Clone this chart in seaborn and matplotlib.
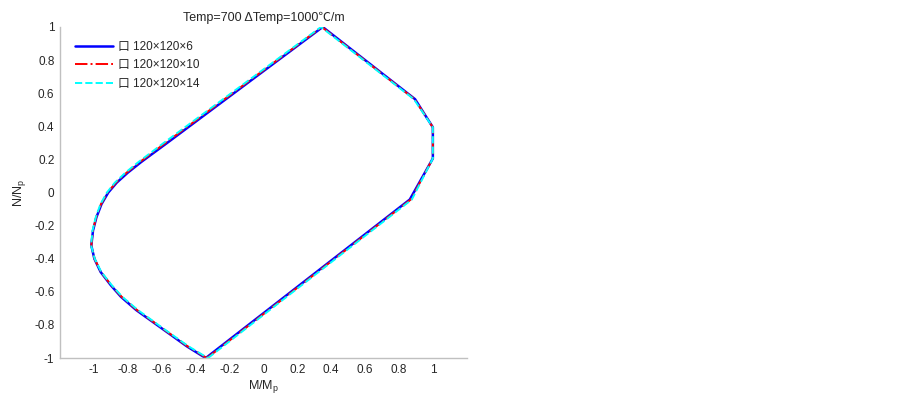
import numpy as np
import pandas as pd
import seaborn as sns
import matplotlib.pyplot as plt

# interaction curves (M/Mp, N/Np), traced around the closed envelope
n_all = [-1.0, -0.042, 0.206, 0.394, 0.564, 1.0, 0.298, 0.185, 0.12, 0.06,
         0.0, -0.07, -0.15, -0.23, -0.32, -0.4, -0.48, -0.56, -0.63, -0.71, -0.82, -0.93, -1.0]

m_6 = [-0.34, 0.864, 1.0, 1.0, 0.895, 0.35, -0.57, -0.72, -0.8, -0.865,
       -0.915, -0.955, -0.985, -1.005, -1.015, -0.997, -0.96, -0.9, -0.84, -0.75, -0.6, -0.45, -0.34]
m_10 = [-0.333, 0.87, 1.0, 1.0, 0.892, 0.345, -0.58, -0.728, -0.807, -0.87,
        -0.919, -0.958, -0.987, -1.006, -1.015, -0.996, -0.958, -0.897, -0.836, -0.745, -0.596, -0.445, -0.333]
m_14 = [-0.327, 0.876, 1.0, 1.0, 0.888, 0.34, -0.59, -0.736, -0.814, -0.876,
        -0.923, -0.961, -0.989, -1.008, -1.016, -0.995, -0.956, -0.894, -0.832, -0.74, -0.592, -0.44, -0.327]

labels = ["口 120×120×6", "口 120×120×10", "口 120×120×14"]
colors = ["#0000ff", "#ff0000", "#00ffff"]
styles = ["-", "-.", "--"]
widths = [1.8, 1.4, 1.4]

sns.set_style("white")
plt.rcParams['font.family'] = ['Liberation Sans', 'Noto Sans CJK SC', 'DejaVu Sans']
plt.rcParams['axes.unicode_minus'] = False

fig = plt.figure(figsize=(9.03, 3.97), dpi=100)
ax = fig.add_axes([0.0664, 0.098, 0.4505, 0.834])

for m, lab, c, ls, lw in zip([m_6, m_10, m_14], labels, colors, styles, widths):
    df = pd.DataFrame({"M": m, "N": n_all})
    sns.lineplot(data=df, x="M", y="N", sort=False, estimator=None, color=c,
                 linestyle=ls, linewidth=lw, label=lab, ax=ax)

ticks = np.round(np.arange(-1, 1.01, 0.2), 1)
tick_labels = ["-1", "-0.8", "-0.6", "-0.4", "-0.2", "0", "0.2", "0.4", "0.6", "0.8", "1"]
ax.set_xlim(-1.2, 1.2)
ax.set_ylim(-1, 1)
ax.set_xticks(ticks)
ax.set_xticklabels(tick_labels)
ax.set_yticks(ticks)
ax.set_yticklabels(tick_labels)
ax.tick_params(direction="in", length=4, color="#b0b0b0", labelsize=8.5, pad=4)

for s in ["top", "right"]:
    ax.spines[s].set_visible(False)
for s in ["left", "bottom"]:
    ax.spines[s].set_color("#c0c0c0")
    ax.spines[s].set_linewidth(1.0)

ax.set_xlabel("M/M$_\\mathregular{p}$", fontsize=9, labelpad=2)
ax.set_ylabel("N/N$_\\mathregular{p}$", fontsize=9, labelpad=4)
ax.set_title("Temp=700 ΔTemp=1000℃/m", fontsize=9, pad=4)

leg = ax.legend(loc="upper left", frameon=False, fontsize=8.5, handlelength=3.2,
                handletextpad=0.4, borderaxespad=0.2, labelspacing=0.55,
                bbox_to_anchor=(0.02, 0.98))

fig.savefig("out.png", dpi=100)
